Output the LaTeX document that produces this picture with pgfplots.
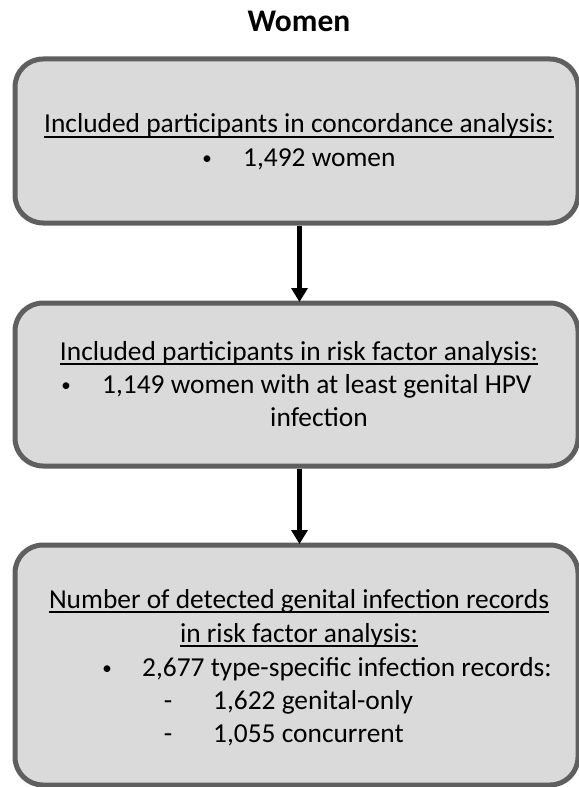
\documentclass[border=0pt]{standalone}
\usepackage{fontspec}
\setmainfont{Carlito}
\usepackage{pgfplots}
\pgfplotsset{compat=1.18}
\usetikzlibrary{arrows.meta}
\definecolor{boxfill}{HTML}{DADADA}
\definecolor{boxdraw}{HTML}{5F5F5F}
\newcommand{\tfont}{\fontsize{27.4bp}{33bp}\selectfont}
\newcommand{\bfont}{\fontsize{19bp}{33bp}\selectfont}
\tikzset{ul/.style={line width=1.5bp, black}}
\newcommand{\ULine}[1]{\draw[ul] ([yshift=-4bp]#1.base west) -- ([yshift=-4bp]#1.base east);}
\begin{document}
\begin{tikzpicture}
\begin{axis}[
  name=ax,
  width=579bp, height=787bp, scale only axis,
  xmin=0, xmax=579, ymin=0, ymax=787, y dir=reverse,
  hide axis, clip=false,
]
% boxes
\draw[boxdraw, line width=5bp, fill=boxfill, rounded corners=28bp] (axis cs:15,59) rectangle (axis cs:578,223);
\draw[boxdraw, line width=5bp, fill=boxfill, rounded corners=28bp] (axis cs:15,303) rectangle (axis cs:578,466);
\draw[boxdraw, line width=5bp, fill=boxfill, rounded corners=28bp] (axis cs:15,545) rectangle (axis cs:578,785);
% arrows
\draw[line width=5bp, -{Triangle[width=16bp,length=14bp]}] (axis cs:299.5,225.5) -- (axis cs:299.5,302);
\draw[line width=5bp, -{Triangle[width=16bp,length=14bp]}] (axis cs:299.5,468.5) -- (axis cs:299.5,544);
% title
\node[anchor=base, inner sep=0pt, font=\fontsize{31.5bp}{33bp}\selectfont\bfseries] at (axis cs:299,32) {Women};
% box 1
\node[anchor=base, inner sep=0pt, font=\tfont] (a1) at (axis cs:299,133) {Included participants in concordance analysis:};
\ULine{a1}
\node[anchor=base, inner sep=0pt, font=\bfont] at (axis cs:207,164.5) {•};
\node[anchor=base west, inner sep=0pt, font=\tfont] at (axis cs:243,166.5) {1,492 women};
% box 2
\node[anchor=base, inner sep=0pt, font=\tfont] (b1) at (axis cs:299,360) {Included participants in risk factor analysis:};
\ULine{b1}
\node[anchor=base, inner sep=0pt, font=\bfont] at (axis cs:66,391) {•};
\node[anchor=base west, inner sep=0pt, font=\tfont] at (axis cs:102,393) {1,149 women with at least genital HPV};
\node[anchor=base, inner sep=0pt, font=\tfont] at (axis cs:319,426) {infection};
% box 3
\node[anchor=base, inner sep=0pt, font=\tfont] (c1) at (axis cs:299,608) {Number of detected genital infection records};
\ULine{c1}
\node[anchor=base, inner sep=0pt, font=\tfont] (c2) at (axis cs:299,642) {in risk factor analysis:};
\ULine{c2}
\node[anchor=base, inner sep=0pt, font=\bfont] at (axis cs:107,674) {•};
\node[anchor=base west, inner sep=0pt, font=\tfont] at (axis cs:142,676) {2,677 type-specific infection records:};
\node[anchor=base, inner sep=0pt, font=\tfont] at (axis cs:168,709) {-};
\node[anchor=base west, inner sep=0pt, font=\tfont] at (axis cs:213,709) {1,622 genital-only};
\node[anchor=base, inner sep=0pt, font=\tfont] at (axis cs:168,742) {-};
\node[anchor=base west, inner sep=0pt, font=\tfont] at (axis cs:213,742) {1,055 concurrent};
\end{axis}
\pgfresetboundingbox
\path[use as bounding box] (ax.south west) rectangle (ax.north east);
\end{tikzpicture}
\end{document}
